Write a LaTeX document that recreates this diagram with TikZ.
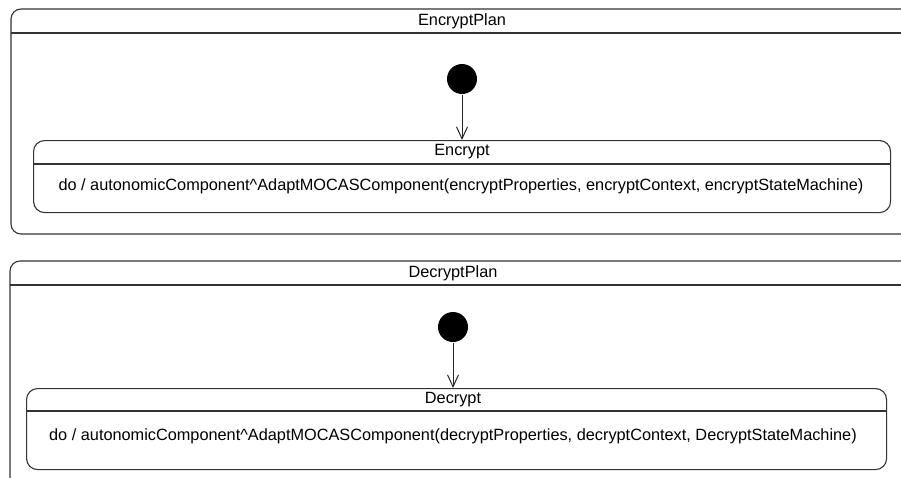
\documentclass[tikz,border=0pt]{standalone}
\usepackage{fontspec}
\setmainfont{Liberation Sans}
\usetikzlibrary{arrows.meta}

\begin{document}
\begin{tikzpicture}[x=1pt, y=-1pt, line width=1.1pt,
  every node/.style={font=\fontsize{16.3}{19}\selectfont, inner sep=0pt},
  plan/.style={draw=black!80, rounded corners=10pt},
  state/.style={draw=black!80, rounded corners=11pt, anchor=north west},
  init/.style={circle, fill=black, minimum size=30pt},
  trans/.style={draw=black!85, line width=1pt, -{Straight Barb[length=12pt, width=11pt]}}]
  \useasboundingbox (0,0) rectangle (901,477);
  \clip (0,0) rectangle (901,477);

  % EncryptPlan
  \draw[plan] (11,9) rectangle (912,234);
  \draw[black!80] (11,33) -- (912,33);
  \node (encplan) at (462,21) {EncryptPlan};
  \node[init] (encinit) at (462,79) {};
  \node[state, minimum width=857pt, minimum height=72pt] (enc) at (33,140) {};
  \draw[black!80] (33,164) -- (890,164);
  \node (encname) at (462,152) {Encrypt};
  \node (encdo) at (461,186) {do / autonomicComponent\^{}AdaptMOCASComponent(encryptProperties, encryptContext, encryptStateMachine)};
  \draw[trans] (encinit) -- (enc.north -| encinit);

  % DecryptPlan
  \draw[plan] (10,261) rectangle (912,500);
  \draw[black!80] (10,285) -- (912,285);
  \node (decplan) at (453,273) {DecryptPlan};
  \node[init] (decinit) at (453,327) {};
  \node[state, minimum width=860pt, minimum height=81pt] (dec) at (26,388) {};
  \draw[black!80] (26,411) -- (886,411);
  \node (decname) at (453,400) {Decrypt};
  \node (decdo) at (453,436) {do / autonomicComponent\^{}AdaptMOCASComponent(decryptProperties, decryptContext, DecryptStateMachine)};
  \draw[trans] (decinit) -- (dec.north -| decinit);
\end{tikzpicture}
\end{document}
